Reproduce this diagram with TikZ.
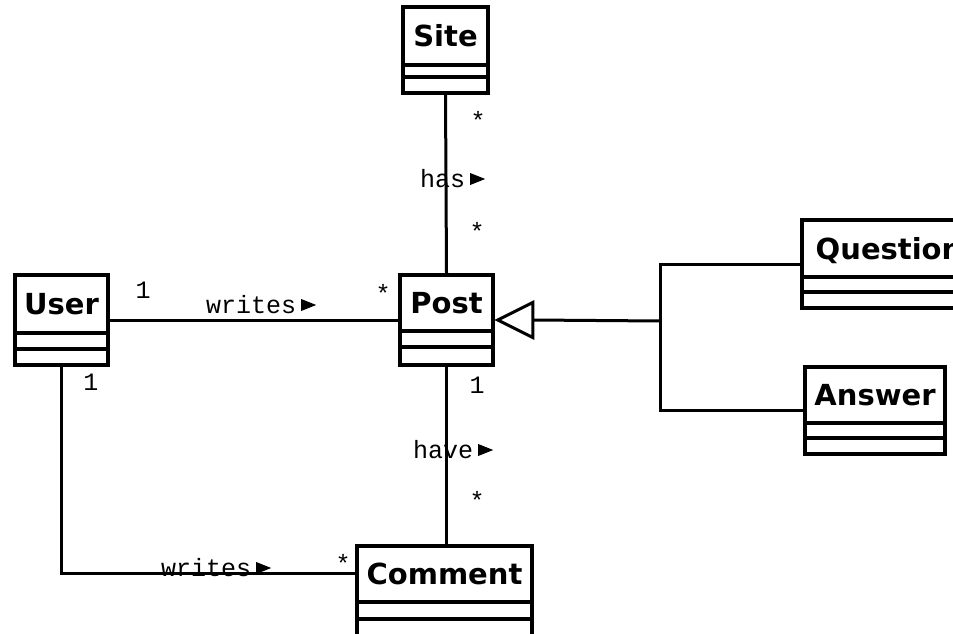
\documentclass[tikz,border=0pt]{standalone}
\usepackage{fontspec}
\newfontfamily\clsfont{DejaVu Sans}
\newfontfamily\lblfont{Liberation Mono}
\newcommand\tri{\hspace{5pt}\tikz[x=1pt,y=1pt,baseline=0pt]\fill[black] (0,2) -- (0,14) -- (15,8) -- cycle;}
% #1 name, #2 x1, #3 y1, #4 x2, #5 y2, #6 sep1, #7 sep2, #8 name centre x, #9 text
\newcommand\umlcls[9]{%
  \node[classbox, minimum width={(#4)-(#2)}, minimum height={(#5)-(#3)}] (#1) at ({((#2)+(#4))/2},{((#3)+(#5))/2}) {};
  \draw[sepline] (#2,#6) -- (#4,#6);
  \draw[sepline] (#2,#7) -- (#4,#7);
  \node[classname] (#1-name) at (#8,{((#3)+(#6))/2}) {#9};
}
\newcommand\lbl[4]{\node[lbl, anchor=base west] (#1) at (#2,#3) {#4\tri};}
\newcommand\mult[4]{\node[lbl, anchor=base] (#1) at (#2,#3) {#4};}
\begin{document}
\begin{tikzpicture}[x=1pt,y=-1pt,
  classbox/.style={draw, line width=3.5pt, rectangle, inner sep=0pt, fill=white},
  sepline/.style={line width=3.5pt},
  classname/.style={font=\clsfont\bfseries\fontsize{29}{29}\selectfont, inner sep=0pt, text height=21pt, text depth=0pt},
  lbl/.style={font=\lblfont\fontsize{25}{25}\selectfont, inner sep=0pt},
  conn/.style={line width=3pt},
  line join=miter]
\useasboundingbox (0,0) rectangle (953,634);
\clip (0,0) rectangle (953,634);
\fill[white] (0,0) rectangle (953,634);

% classes
\umlcls{site}{403}{7}{488}{93}{65}{77}{445.5}{Site}
\umlcls{post}{400}{275}{493}{365}{331}{347}{446.5}{Post}
\umlcls{user}{15}{275}{108}{365}{333}{349}{61.5}{User}
\umlcls{question}{802}{220}{965}{308}{277}{292}{889}{Question}
\umlcls{answer}{805}{367}{945}{454}{423}{438}{875}{Answer}
\umlcls{comment}{357}{546}{532}{650}{602}{619}{444.5}{Comment}

% association labels
\lbl{has}{420}{187}{has}
\lbl{writes1}{206}{313}{writes}
\lbl{have}{413}{458}{have}
\lbl{writes2}{161}{576}{writes}

% multiplicities
\mult{m1}{478}{129}{*}
\mult{m2}{477}{240}{*}
\mult{m3}{143}{298}{1}
\mult{m4}{383}{302}{*}
\mult{m5}{91}{390}{1}
\mult{m6}{477}{393}{1}
\mult{m7}{477}{509}{*}
\mult{m8}{343}{572}{*}

% connectors
\draw[conn] (site.south) -- (post.north);
\draw[conn] (user.east) -- (post.west);
\draw[conn] (post.south) -- (post.south |- comment.north);
\draw[conn] (user.south) |- ([yshift=-29pt]comment.north west);
\coordinate (junc) at (660,321);
\draw[conn] (question.west) -| (junc) |- (answer.west);
\draw[conn] (junc) -- ([xshift=38pt]post.east);
\draw[conn] ([xshift=3pt]post.east) -- ++(35,-17.5) -- ++(0,35) -- cycle;
\end{tikzpicture}
\end{document}
